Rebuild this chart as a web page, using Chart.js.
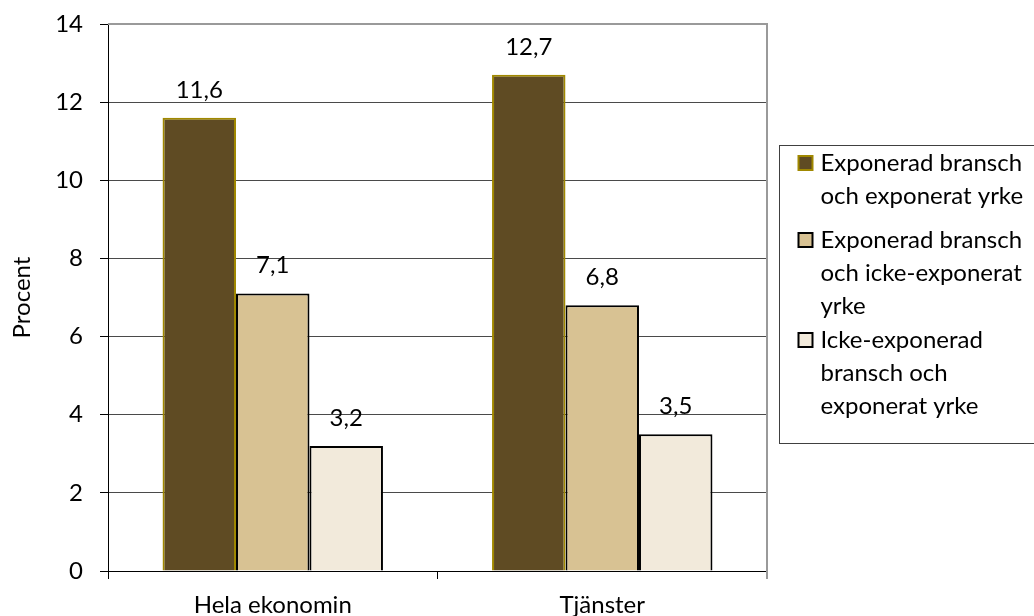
<!DOCTYPE html>
<html lang="sv">
<head>
<meta charset="utf-8">
<title>Procent per grupp</title>
<script src="https://cdn.jsdelivr.net/npm/chart.js@4/dist/chart.umd.min.js"></script>
<style>
  html, body { margin: 0; padding: 0; background: #ffffff; }
  canvas { display: block; }
</style>
</head>
<body>
<canvas id="chart" width="1034" height="616"></canvas>
<script>
// Categories on the x axis
const categories = ['Hela ekonomin', 'Tjänster'];

// Series values (percent)
const exposedBoth = [11.6, 12.7];
const exposedIndustryOnly = [7.1, 6.8];
const exposedOccupationOnly = [3.2, 3.5];

// Series names, already broken into legend lines
const nameExposedBoth = ['Exponerad bransch', 'och exponerat yrke'];
const nameExposedIndustryOnly = ['Exponerad bransch', 'och icke-exponerat', 'yrke'];
const nameExposedOccupationOnly = ['Icke-exponerad', 'bransch och', 'exponerat yrke'];

// Y axis ticks
const yTicks = [0, 2, 4, 6, 8, 10, 12, 14];
const yTitle = 'Procent';

const FONT = 'Lato';
const FONT_SIZE = 24;

function fmt(v) {
  return v.toFixed(1).replace('.', ',');
}

// Value labels above each bar
const valueLabels = {
  id: 'valueLabels',
  afterDatasetsDraw(chart) {
    const ctx = chart.ctx;
    ctx.save();
    ctx.font = FONT_SIZE + 'px ' + FONT;
    ctx.fillStyle = '#000';
    ctx.textAlign = 'center';
    ctx.textBaseline = 'middle';
    chart.data.datasets.forEach((ds, i) => {
      const meta = chart.getDatasetMeta(i);
      meta.data.forEach((bar, j) => {
        ctx.fillText(fmt(ds.data[j]), bar.x, bar.y - 28);
      });
    });
    ctx.restore();
  }
};

// Plot-area frame (top and right edges)
const plotFrame = {
  id: 'plotFrame',
  beforeDatasetsDraw(chart) {
    const { ctx, chartArea: a } = chart;
    ctx.save();
    ctx.strokeStyle = '#9a9a9a';
    ctx.lineWidth = 2;
    ctx.beginPath();
    ctx.moveTo(a.left, a.top);
    ctx.lineTo(a.right, a.top);
    ctx.lineTo(a.right, a.bottom + 8);
    ctx.stroke();
    ctx.restore();
  }
};

// Boxed legend with wrapped series names
const boxLegend = {
  id: 'boxLegend',
  afterDraw(chart) {
    const ctx = chart.ctx;
    const a = chart.chartArea;
    const boxLeft = a.right + 12.5;
    const boxTop = 145.5;
    const boxBottom = 443.5;
    const lineH = 33.3;
    const itemTops = [163, 240, 340];
    ctx.save();
    ctx.strokeStyle = '#404040';
    ctx.lineWidth = 1;
    ctx.strokeRect(boxLeft, boxTop, 400, boxBottom - boxTop);
    ctx.font = FONT_SIZE + 'px ' + FONT;
    ctx.textAlign = 'left';
    ctx.textBaseline = 'middle';
    chart.data.datasets.forEach((ds, i) => {
      const y0 = itemTops[i];
      ctx.fillStyle = ds.backgroundColor;
      ctx.fillRect(boxLeft + 19, y0 - 7, 14, 14);
      ctx.strokeStyle = ds.borderColor;
      ctx.lineWidth = 2;
      ctx.strokeRect(boxLeft + 19, y0 - 7, 14, 14);
      ctx.fillStyle = '#000';
      ds.legendLines.forEach((line, k) => {
        ctx.fillText(line, boxLeft + 41, y0 + k * lineH);
      });
    });
    ctx.restore();
  }
};

new Chart(document.getElementById('chart'), {
  type: 'bar',
  data: {
    labels: categories,
    datasets: [
      {
        label: nameExposedBoth.join(' '),
        legendLines: nameExposedBoth,
        data: exposedBoth,
        backgroundColor: '#5f4b23',
        borderColor: '#a08800',
        borderWidth: 2
      },
      {
        label: nameExposedIndustryOnly.join(' '),
        legendLines: nameExposedIndustryOnly,
        data: exposedIndustryOnly,
        backgroundColor: '#d8c293',
        borderColor: '#000000',
        borderWidth: 2
      },
      {
        label: nameExposedOccupationOnly.join(' '),
        legendLines: nameExposedOccupationOnly,
        data: exposedOccupationOnly,
        backgroundColor: '#f2eadb',
        borderColor: '#000000',
        borderWidth: 2
      }
    ]
  },
  options: {
    responsive: false,
    animation: false,
    devicePixelRatio: 1,
    layout: { padding: { left: 0, right: 267, top: 24, bottom: 0 } },
    datasets: {
      bar: { categoryPercentage: 0.669, barPercentage: 1.0 }
    },
    plugins: {
      legend: { display: false },
      tooltip: { enabled: false }
    },
    scales: {
      x: {
        offset: true,
        grid: {
          offset: true,
          drawOnChartArea: false,
          drawTicks: true,
          tickLength: 8,
          tickColor: '#000'
        },
        border: { display: true, color: '#000', width: 1 },
        ticks: {
          color: '#000',
          padding: 12,
          font: { family: FONT, size: FONT_SIZE }
        },
        afterFit(scale) {
          scale.height = 45;
          scale.paddingLeft = 0;
          scale.paddingRight = 0;
        }
      },
      y: {
        min: 0,
        max: 14,
        afterBuildTicks(scale) {
          scale.ticks = yTicks.map(v => ({ value: v }));
        },
        grid: {
          color: (c) => (c.tick && c.tick.value === 14 ? 'rgba(0,0,0,0)' : '#4a4a4a'),
          lineWidth: 1,
          drawTicks: true,
          tickLength: 8,
          tickColor: '#000'
        },
        border: { display: true, color: '#000', width: 1 },
        ticks: {
          color: '#000',
          padding: 17,
          font: { family: FONT, size: FONT_SIZE },
          callback: (v) => String(v)
        },
        title: {
          display: true,
          text: yTitle,
          color: '#000',
          padding: { top: 8, bottom: 0 },
          font: { family: FONT, size: FONT_SIZE }
        },
        afterFit(scale) {
          scale.width = 108;
          scale.paddingTop = 0;
          scale.paddingBottom = 0;
        }
      }
    }
  },
  plugins: [plotFrame, valueLabels, boxLegend]
});
</script>
</body>
</html>
